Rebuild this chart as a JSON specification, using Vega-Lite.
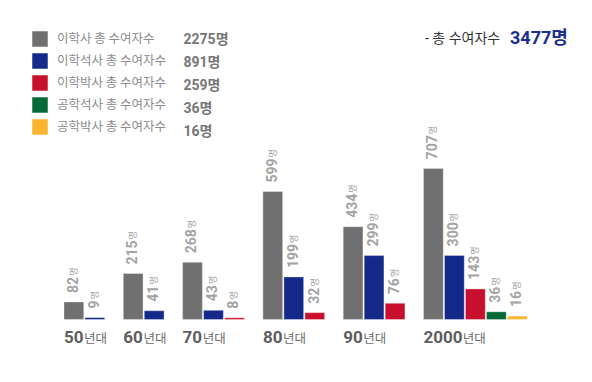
{
  "$schema": "https://vega.github.io/schema/vega-lite/v6.json",
  "padding": {"left": 32, "top": 29.5, "right": 10, "bottom": 10},
  "background": "white",
  "config": {"view": {"stroke": null}, "font": "Roboto, 'Noto Sans CJK KR'"},
  "datasets": {
    "bars": [
      {"decade": "50", "cat": "이학사", "value": 82},
      {"decade": "50", "cat": "이학석사", "value": 9},
      {"decade": "60", "cat": "이학사", "value": 215},
      {"decade": "60", "cat": "이학석사", "value": 41},
      {"decade": "70", "cat": "이학사", "value": 268},
      {"decade": "70", "cat": "이학석사", "value": 43},
      {"decade": "70", "cat": "이학박사", "value": 8},
      {"decade": "80", "cat": "이학사", "value": 599},
      {"decade": "80", "cat": "이학석사", "value": 199},
      {"decade": "80", "cat": "이학박사", "value": 32},
      {"decade": "90", "cat": "이학사", "value": 434},
      {"decade": "90", "cat": "이학석사", "value": 299},
      {"decade": "90", "cat": "이학박사", "value": 76},
      {"decade": "2000", "cat": "이학사", "value": 707},
      {"decade": "2000", "cat": "이학석사", "value": 300},
      {"decade": "2000", "cat": "이학박사", "value": 143},
      {"decade": "2000", "cat": "공학석사", "value": 36},
      {"decade": "2000", "cat": "공학박사", "value": 16}
    ],
    "totals": [
      {"cat": "이학사", "total": 2275},
      {"cat": "이학석사", "total": 891},
      {"cat": "이학박사", "total": 259},
      {"cat": "공학석사", "total": 36},
      {"cat": "공학박사", "total": 16}
    ]
  },
  "data": {"name": "bars"},
  "transform": [
    {"lookup": "cat", "from": {"data": {"name": "totals"}, "key": "cat", "fields": ["total"]}}
  ],
  "facet": {
    "column": {"field": "decade", "type": "nominal", "sort": ["50", "60", "70", "80", "90", "2000"], "header": null}
  },
  "spacing": 18.3,
  "bounds": "flush",
  "resolve": {"scale": {"x": "independent"}},
  "spec": {
    "width": {"step": 21},
    "height": 171,
    "layer": [
      {
        "mark": {"type": "bar", "strokeWidth": 1, "strokeOpacity": 0.35},
        "encoding": {
          "x": {"field": "cat", "type": "nominal", "sort": ["이학사", "이학석사", "이학박사", "공학석사", "공학박사"], "scale": {"paddingInner": 0.06, "paddingOuter": 0}, "axis": null},
          "y": {"field": "value", "type": "quantitative", "scale": {"domain": [0, 800], "nice": false}, "axis": null},
          "color": {
            "field": "cat", "type": "nominal",
            "scale": {"domain": ["이학사", "이학석사", "이학박사", "공학석사", "공학박사"], "range": ["#707070", "#14298a", "#c8102e", "#036a37", "#f7b62e"]},
            "legend": {"orient": "none", "legendX": -32, "legendY": -117.5, "title": null, "symbolType": "square", "symbolSize": 240, "symbolStrokeWidth": 0, "labelExpr": "datum.label + ' 총 수여자수'", "labelFont": "'Noto Sans CJK KR'", "labelFontSize": 12.5, "labelFontWeight": "normal", "labelColor": "#8c8c8c", "labelOffset": 9, "rowPadding": 6, "padding": 0, "labelLimit": 300}
          },
          "strokeDash": {
            "field": "total", "type": "nominal",
            "scale": {"domain": [2275, 891, 259, 36, 16], "range": [[1, 0], [1, 0], [1, 0], [1, 0], [1, 0]]},
            "legend": {"orient": "none", "legendX": 96.5, "legendY": -117.5, "title": null, "symbolType": "square", "symbolSize": 240, "symbolOpacity": 0, "labelExpr": "datum.label + '명'", "labelFont": "Roboto, 'Noto Sans CJK KR'", "labelFontSize": 14, "labelFontWeight": "bold", "labelColor": "#777777", "labelOffset": 6, "rowPadding": 6, "padding": 0}
          },
          "stroke": {
            "datum": 3477, "type": "nominal",
            "scale": {"range": ["#ffffff"]},
            "legend": {"orient": "none", "legendX": 361, "legendY": -118.7, "title": "- 총 수여자수", "titleOrient": "left", "titleFont": "Roboto, 'Noto Sans CJK KR'", "titleFontSize": 14, "titleFontWeight": "normal", "titleColor": "#333333", "titlePadding": -11, "symbolType": "square", "symbolSize": 1, "symbolOpacity": 0, "labelExpr": "datum.label + '명'", "labelFont": "Roboto, 'Noto Sans CJK KR'", "labelFontSize": 18, "labelFontWeight": "bold", "labelColor": "#1b2f8e", "labelOffset": 2, "padding": 0}
          }
        }
      },
      {
        "mark": {"type": "text", "angle": 270, "align": "left", "baseline": "middle", "dx": 9, "font": "Roboto", "fontSize": 14, "fontWeight": "bold", "color": "#a3a3a3"},
        "encoding": {
          "x": {"field": "cat", "type": "nominal", "sort": ["이학사", "이학석사", "이학박사", "공학석사", "공학박사"]},
          "y": {"field": "value", "type": "quantitative"},
          "text": {"field": "value", "type": "quantitative"}
        }
      },
      {
        "mark": {"type": "text", "angle": 270, "align": "left", "baseline": "middle", "dx": {"expr": "10.5 + length(toString(datum.value)) * 7.86"}, "font": "'Noto Sans CJK KR'", "fontSize": 9, "color": "#a3a3a3"},
        "encoding": {
          "x": {"field": "cat", "type": "nominal", "sort": ["이학사", "이학석사", "이학박사", "공학석사", "공학박사"]},
          "y": {"field": "value", "type": "quantitative"},
          "text": {"value": "명"}
        }
      },
      {
        "transform": [{"filter": "datum.cat === '이학사'"}],
        "mark": {"type": "text", "align": "left", "baseline": "alphabetic", "dy": 23, "font": "Roboto", "fontSize": 17, "fontWeight": "bold", "color": "#5e5e5e"},
        "encoding": {
          "x": {"field": "cat", "type": "nominal", "sort": ["이학사", "이학석사", "이학박사", "공학석사", "공학박사"], "bandPosition": 0},
          "y": {"datum": 0},
          "text": {"field": "decade", "type": "nominal"}
        }
      },
      {
        "transform": [{"filter": "datum.cat === '이학사'"}],
        "mark": {"type": "text", "align": "left", "baseline": "alphabetic", "dy": 23, "dx": {"expr": "length(datum.decade) * 9.55 + 1"}, "font": "'Noto Sans CJK KR'", "fontSize": 12.5, "color": "#6a6a6a"},
        "encoding": {
          "x": {"field": "cat", "type": "nominal", "sort": ["이학사", "이학석사", "이학박사", "공학석사", "공학박사"], "bandPosition": 0},
          "y": {"datum": 0},
          "text": {"value": "년대"}
        }
      }
    ]
  }
}
